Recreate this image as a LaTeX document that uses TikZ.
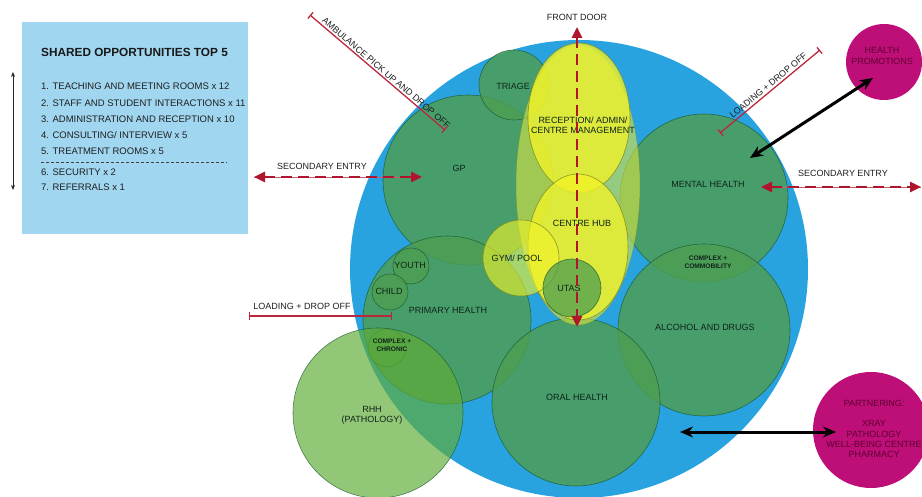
\documentclass[tikz,border=0pt]{standalone}
\usepackage{fontspec}
\setmainfont{Liberation Sans}
\usetikzlibrary{arrows.meta}
\definecolor{bluebg}{RGB}{41,163,224}
\definecolor{grn}{RGB}{78,158,82}
\definecolor{grnline}{RGB}{25,85,45}
\definecolor{ltgrn}{RGB}{95,172,55}
\definecolor{yel}{RGB}{242,244,40}
\definecolor{paleyel}{RGB}{215,228,70}
\definecolor{yelline}{RGB}{120,130,30}
\definecolor{boxblue}{RGB}{160,214,240}
\definecolor{mag}{RGB}{190,15,120}
\definecolor{magtext}{RGB}{95,0,50}
\definecolor{darkred}{RGB}{175,22,45}
\definecolor{barred}{RGB}{185,40,60}
\definecolor{lbl}{RGB}{15,35,25}
\begin{document}
\begin{tikzpicture}[x=1pt,y=-1pt,
  greenc/.style={fill=grn, fill opacity=0.82, draw=grnline, draw opacity=0.75, line width=0.6pt},
  lightgc/.style={fill=ltgrn, fill opacity=0.68, draw=grnline, draw opacity=0.7, line width=0.6pt},
  yelc/.style={fill=yel, fill opacity=0.78, draw=yelline, draw opacity=0.8, line width=0.6pt},
  paleyc/.style={fill=paleyel, fill opacity=0.62, draw=yelline, draw opacity=0.5, line width=0.5pt},
  magc/.style={fill=mag},
  lab/.style={font=\fontsize{9}{10}\selectfont, text=lbl, align=center, inner sep=0pt},
  smalllab/.style={font=\fontsize{6.6}{8}\selectfont\bfseries, text=lbl, align=center, inner sep=0pt},
  maglab/.style={font=\fontsize{9}{10.5}\selectfont, text=magtext, align=center, inner sep=0pt},
  entrylab/.style={font=\fontsize{9}{10}\selectfont, text=black!88, inner sep=0pt},
  entry/.style={darkred, line width=2.6pt, dash pattern=on 11pt off 6pt, {Triangle[length=11pt,width=10pt]}-{Triangle[length=11pt,width=10pt]}},
  barline/.style={barred, line width=1.3pt, {Bar[width=8pt]}-{Bar[width=8pt]}},
  blackarrow/.style={black, line width=3pt, {Stealth[length=13pt,width=11pt]}-{Stealth[length=13pt,width=11pt]}},
  listtxt/.style={font=\fontsize{9.5}{11}\selectfont, text=black!88, anchor=west, inner sep=0pt}
]
\useasboundingbox (0,0) rectangle (922,497);

% left box
\fill[boxblue] (22,22) rectangle (248,234);
\node[font=\fontsize{11.8}{13}\selectfont\bfseries, text=black!90, anchor=west, inner sep=0pt] (title) at (41,52) {SHARED OPPORTUNITIES TOP 5};
\node[listtxt] (l1) at (41,86) {1. TEACHING AND MEETING ROOMS x 12};
\node[listtxt] (l2) at (41,103) {2. STAFF AND STUDENT INTERACTIONS x 11};
\node[listtxt] (l3) at (41,119) {3. ADMINISTRATION AND RECEPTION x 10};
\node[listtxt] (l4) at (41,135) {4. CONSULTING/ INTERVIEW x 5};
\node[listtxt] (l5) at (41,151) {5. TREATMENT ROOMS x 5};
\coordinate (dl1) at (41,162);
\coordinate (dl2) at (227,162);
\draw[black!75, line width=0.6pt, dash pattern=on 3pt off 2pt] (dl1) -- (dl2);
\node[listtxt] (l6) at (41,172) {6. SECURITY x 2};
\node[listtxt] (l7) at (41,187) {7. REFERRALS x 1};
\coordinate (va1) at (13,72);
\coordinate (va2) at (13,190);
\draw[black!85, line width=1pt, {Stealth[length=5pt,width=4pt]}-{Stealth[length=5pt,width=4pt]}] (va1) -- (va2);

% big blue circle
\fill[bluebg] (579,269) circle[radius=229pt];

% green circles
\draw[greenc] (468,180) circle[radius=85pt];
\draw[greenc] (704,198) circle[radius=84pt];
\draw[greenc] (447,320) circle[radius=84pt];
\draw[greenc] (704,330) circle[radius=86pt];
\draw[greenc] (576,402) circle[radius=84pt];
\draw[greenc] (411,266) circle[radius=18pt];
\draw[greenc] (390,292) circle[radius=18pt];
\draw[greenc] (387,348) circle[radius=19pt];
\draw[greenc] (514,85) circle[radius=35pt];
\draw[lightgc] (378,413) circle[radius=85pt];

% yellow shapes
\draw[paleyc] (578,185) ellipse[x radius=62pt, y radius=140pt];
\draw[yelc] (579,118) ellipse[x radius=51pt, y radius=75pt];
\draw[yelc] (578,247) ellipse[x radius=50pt, y radius=73pt];
\draw[yelc, fill opacity=0.62] (521,258) circle[radius=38pt];
\draw[greenc, fill opacity=0.75] (572,288) circle[radius=29pt];

% magenta circles
\fill[magc] (884,62) circle[radius=38pt];
\fill[magc] (871,430) circle[radius=58pt];

% labels
\node[lab] (triage) at (513,86) {TRIAGE};
\node[lab] (recep) at (583,125) {RECEPTION/ ADMIN/\\CENTRE MANAGEMENT};
\node[lab] (hub) at (582,223) {CENTRE HUB};
\node[lab] (gym) at (517,258) {GYM/ POOL};
\node[lab] (utas) at (569,288) {UTAS};
\node[lab] (gp) at (459,168) {GP};
\node[lab] (mental) at (708,184) {MENTAL HEALTH};
\node[smalllab] (commob) at (708,262) {COMPLEX +\\COMMOBILITY};
\node[lab] (primary) at (448,310) {PRIMARY HEALTH};
\node[lab] (youth) at (410,265) {YOUTH};
\node[lab] (child) at (389,291) {CHILD};
\node[smalllab] (chronic) at (392,345) {COMPLEX +\\CHRONIC};
\node[lab] (rhh) at (372,415) {RHH\\(PATHOLOGY)};
\node[lab] (alcohol) at (705,327) {ALCOHOL AND DRUGS};
\node[lab] (oral) at (577,397) {ORAL HEALTH};
\node[maglab] (healthp) at (882,56) {HEALTH\\PROMOTIONS};
\node[maglab, font=\fontsize{9}{10.4}\selectfont] (partner) at (874,429) {PARTNERING:\\[10pt]XRAY\\PATHOLOGY\\WELL-BEING CENTRE\\PHARMACY};

% front door
\node[entrylab] (fdlab) at (577,17) {FRONT DOOR};
\coordinate (fd1) at (577,27);
\coordinate (fd2) at (577,327);
\draw[entry] (fd1) -- (fd2);

% secondary entries
\node[entrylab] (se1lab) at (322,166) {SECONDARY ENTRY};
\coordinate (se1a) at (254,177);
\coordinate (se1b) at (422,177);
\draw[darkred!70, line width=0.5pt] (se1a) -- (se1b);
\draw[entry] (se1a) -- (se1b);
\node[entrylab] (se2lab) at (843,173) {SECONDARY ENTRY};
\coordinate (se2a) at (761,187);
\coordinate (se2b) at (921,187);
\draw[darkred!70, line width=0.5pt] (se2a) -- (se2b);
\draw[entry] (se2a) -- (se2b);

% ambulance and loading
\coordinate (amb1) at (310,15);
\coordinate (amb2) at (445,130);
\draw[barline] (amb1) -- node[pos=0.54, sloped, above=1.5pt, entrylab] (amblab) {AMBULANCE PICK UP AND DROP OFF} (amb2);
\coordinate (ld1) at (720,133);
\coordinate (ld2) at (820,50);
\draw[barline] (ld1) -- node[pos=0.52, sloped, above=2pt, entrylab] (ldlab) {LOADING + DROP OFF} (ld2);
\coordinate (ll1) at (249,316);
\coordinate (ll2) at (392,316);
\draw[barline] (ll1) -- (ll2);
\node[entrylab] (lllab) at (302,306) {LOADING + DROP OFF};

% black arrows
\coordinate (hp1) at (750,158);
\coordinate (hp2) at (873,78);
\draw[blackarrow] (hp1) -- (hp2);
\coordinate (pa1) at (680,432);
\coordinate (pa2) at (836,432);
\draw[blackarrow] (pa1) -- (pa2);
\end{tikzpicture}
\end{document}
